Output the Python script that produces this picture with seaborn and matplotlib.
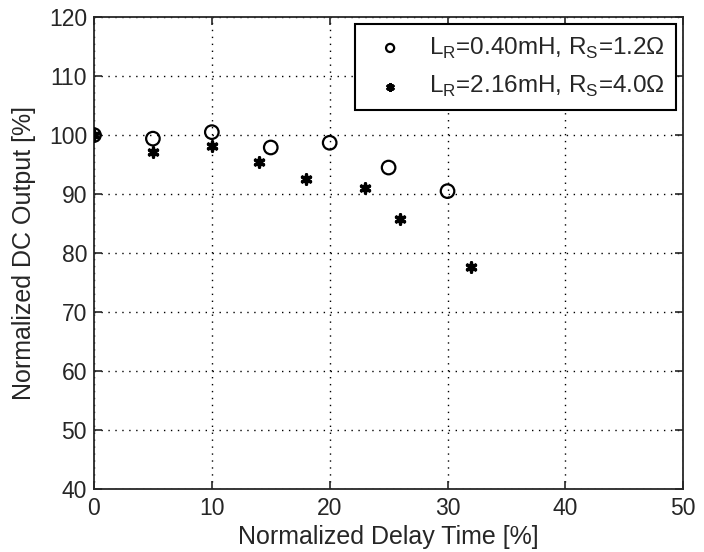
import numpy as np
import pandas as pd
import seaborn as sns
import matplotlib.pyplot as plt

# values
delay_a = [0, 5, 10, 15, 20, 25, 30]
output_a = [100, 99.4, 100.5, 97.9, 98.7, 94.5, 90.5]
delay_b = [0, 5, 10, 14, 18, 23, 26, 32]
output_b = [100, 97.2, 98.1, 95.4, 92.6, 91.0, 85.7, 77.6]
label_a = r"L$_\mathrm{R}$=0.40mH, R$_\mathrm{S}$=1.2Ω"
label_b = r"L$_\mathrm{R}$=2.16mH, R$_\mathrm{S}$=4.0Ω"

sns.set_style("ticks")
plt.rcParams['font.family'] = ['Liberation Sans', 'DejaVu Sans']
plt.rcParams['mathtext.fontset'] = 'custom'
plt.rcParams['mathtext.rm'] = 'Liberation Sans'
plt.rcParams['xtick.direction'] = 'in'
plt.rcParams['ytick.direction'] = 'in'

df_a = pd.DataFrame({"delay": delay_a, "output": output_a})
df_b = pd.DataFrame({"delay": delay_b, "output": output_b})

fig = plt.figure(figsize=(7.04, 5.52), dpi=100)
ax = fig.add_axes([0.1335, 0.114, 0.837, 0.855])

sns.scatterplot(data=df_a, x="delay", y="output", ax=ax, marker="o", s=95,
                facecolor="none", edgecolor="black", linewidth=1.6, label=label_a, zorder=3)
sns.scatterplot(data=df_b, x="delay", y="output", ax=ax, marker=(6, 2, 0), s=45,
                color="black", edgecolor="black", linewidth=2.4, label=label_b, zorder=3)

ax.set_xlim(0, 50)
ax.set_ylim(40, 120)
ax.set_xticks(np.arange(0, 51, 10))
ax.set_yticks(np.arange(40, 121, 10))
ax.grid(True, linestyle=(0, (1, 4)), color="black", linewidth=1.0)
for s in ax.spines.values():
    s.set_visible(True)
    s.set_linewidth(1.3)
ax.tick_params(labelsize=16.5, length=6, width=1.2, top=True, right=True)
ax.tick_params(axis="x", pad=6)
ax.tick_params(axis="y", pad=5)
ax.set_xlabel("Normalized Delay Time [%]", fontsize=18, labelpad=3)
ax.set_ylabel("Normalized DC Output [%]", fontsize=18, labelpad=9)

leg = ax.legend(loc="upper right", fontsize=17.5, frameon=True, fancybox=False,
                edgecolor="black", framealpha=1, handletextpad=0.6,
                borderaxespad=0.3, markerscale=0.6, labelspacing=0.55,
                borderpad=0.45)
leg.get_frame().set_linewidth(1.5)

fig.savefig("out.png", dpi=100)
